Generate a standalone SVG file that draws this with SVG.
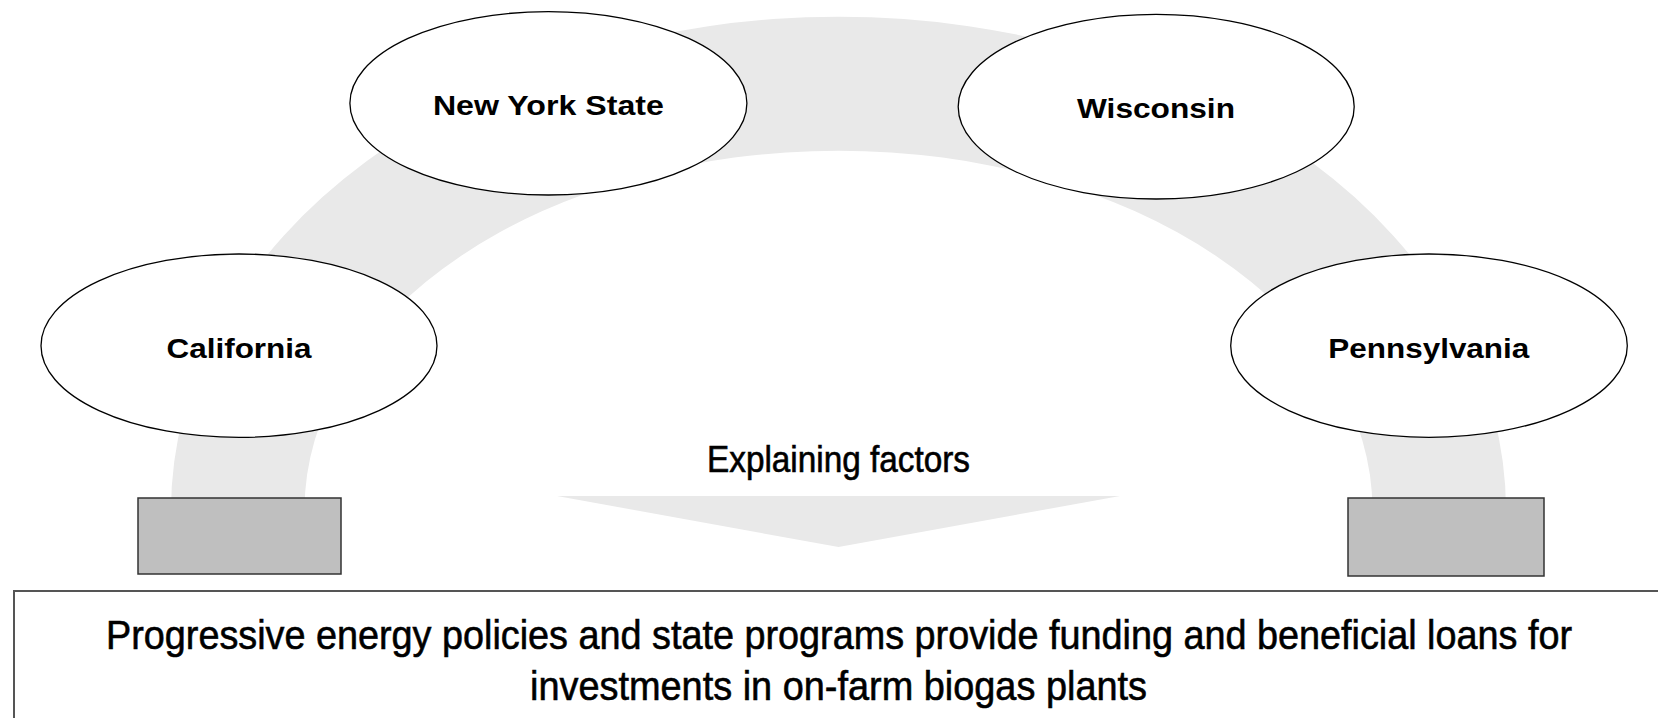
<svg xmlns="http://www.w3.org/2000/svg" width="1658" height="718" viewBox="0 0 1658 718">
  <style>
    .band { fill: #e9e9e9; stroke: none; }
    .state ellipse { fill: #ffffff; stroke: #000000; stroke-width: 1.3; }
    .state text { font-family: "Liberation Sans", Arial, sans-serif; font-weight: bold; font-size: 28px; fill: #000000; text-anchor: middle; }
    .base { fill: #bfbfbf; stroke: #333333; stroke-width: 1.5; }
    .narrow { font-family: "Liberation Sans Narrow", "Liberation Sans", Arial, sans-serif; fill: #000000; stroke: #000000; stroke-width: 0.6; text-anchor: middle; }
  </style>
  <rect width="1658" height="718" fill="#ffffff"/>

  <g id="connectors">
    <path id="arch" class="band" d="M 171 510 A 667.5 493.3 0 0 1 1506 510 L 1372.5 510 A 534 359.3 0 0 0 304.5 510 Z"/>
    <polygon id="down-arrow" class="band" points="557,496 1120,496 838.5,547"/>
  </g>

  <g id="base-left">
    <rect class="base" x="138" y="498" width="203" height="76"/>
  </g>
  <g id="base-right">
    <rect class="base" x="1348" y="498" width="196" height="78"/>
  </g>

  <g id="california" class="state">
    <ellipse cx="239" cy="345.7" rx="198" ry="91.7"/>
    <text x="239" y="358.3" textLength="145" lengthAdjust="spacingAndGlyphs">California</text>
  </g>
  <g id="new-york" class="state">
    <ellipse cx="548.4" cy="103.3" rx="198.5" ry="91.7"/>
    <text x="548.4" y="115" textLength="231" lengthAdjust="spacingAndGlyphs">New York State</text>
  </g>
  <g id="wisconsin" class="state">
    <ellipse cx="1156.2" cy="106.7" rx="198" ry="92.3"/>
    <text x="1156" y="118.3" textLength="158" lengthAdjust="spacingAndGlyphs">Wisconsin</text>
  </g>
  <g id="pennsylvania" class="state">
    <ellipse cx="1429" cy="345.7" rx="198.3" ry="91.7"/>
    <text x="1428.8" y="358.3" textLength="201" lengthAdjust="spacingAndGlyphs">Pennsylvania</text>
  </g>

  <g id="explaining-factors">
    <text class="narrow" x="838.5" y="472" font-size="36" textLength="263" lengthAdjust="spacingAndGlyphs">Explaining factors</text>
  </g>

  <g id="conclusion">
    <rect x="14" y="591" width="1700" height="200" fill="#ffffff" stroke="#555555" stroke-width="2"/>
    <text class="narrow" x="839" y="648.5" font-size="41" textLength="1466" lengthAdjust="spacingAndGlyphs">Progressive energy policies and state programs provide funding and beneficial loans for</text>
    <text class="narrow" x="838.5" y="700" font-size="41" textLength="617" lengthAdjust="spacingAndGlyphs">investments in on-farm biogas plants</text>
  </g>
</svg>
